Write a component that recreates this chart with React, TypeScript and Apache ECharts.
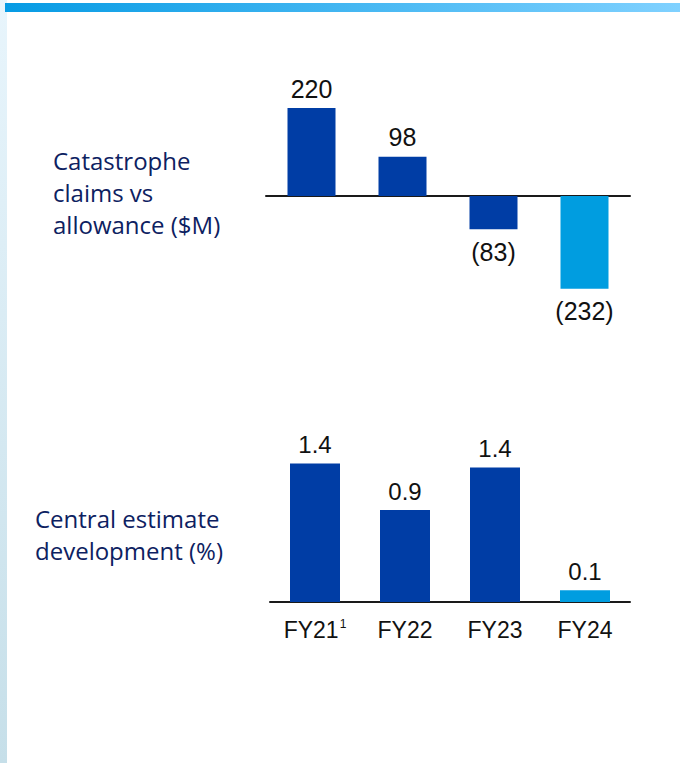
import React, { useEffect, useRef } from "react";
import * as echarts from "echarts";

const categories = ["FY21", "FY22", "FY23", "FY24"];
const footnoteMarks = ["1", "", "", ""];
const catastropheValues = [220, 98, -83, -232];
const centralEstimateValues = [1.4, 0.93, 1.36, 0.12];
const topTitleLines = ["Catastrophe", "claims vs", "allowance ($M)"];
const bottomTitleLines = ["Central estimate", "development (%)"];

const DARK = "#003da5";
const LIGHT = "#009de0";
const TITLE = "#0d2161";

export default function App() {
  const ref = useRef<HTMLDivElement>(null);
  useEffect(() => {
    if (!ref.current) return;
    document.body.style.margin = "0";
    const chart = echarts.init(ref.current, null, { renderer: "svg" });
    const lastIdx = categories.length - 1;
    chart.setOption({
      animation: false,
      backgroundColor: "#fff",
      grid: [
        { left: 266, width: 364, top: 96, height: 220 },
        { left: 270, width: 360, top: 443.8, height: 158.2 },
      ],
      xAxis: [
        {
          gridIndex: 0,
          type: "category",
          data: categories,
          axisLine: { onZero: true, lineStyle: { color: "#1a1a1a", width: 2 } },
          axisTick: { show: false },
          axisLabel: { show: false },
        },
        {
          gridIndex: 1,
          type: "category",
          data: categories,
          axisLine: { lineStyle: { color: "#1a1a1a", width: 2 } },
          axisTick: { show: false },
          axisLabel: {
            interval: 0,
            margin: 16,
            fontFamily: "Liberation Sans",
            fontSize: 23,
            color: "#111",
            formatter: (v: string, i: number) =>
              footnoteMarks[i] ? `${v}{sup|${footnoteMarks[i]}}` : v,
            rich: {
              sup: {
                fontFamily: "Liberation Sans",
                fontSize: 12,
                color: "#111",
                verticalAlign: "top",
                padding: [0, 0, 10, 1],
              },
            },
          },
        },
      ],
      yAxis: [
        { gridIndex: 0, type: "value", min: -300, max: 250, show: false, splitLine: { show: false } },
        { gridIndex: 1, type: "value", min: 0, max: 1.6, show: false, splitLine: { show: false } },
      ],
      series: [
        {
          type: "bar",
          xAxisIndex: 0,
          yAxisIndex: 0,
          barWidth: 48,
          data: catastropheValues.map((v, i) => ({
            value: v,
            itemStyle: { color: i === lastIdx ? LIGHT : DARK },
            label: {
              show: true,
              position: v >= 0 ? "top" : "bottom",
              distance: v >= 0 ? 7 : 10,
              fontFamily: "Liberation Sans",
              fontSize: 25,
              color: "#111",
              formatter: () => (v < 0 ? `(${Math.abs(v)})` : `${v}`),
            },
          })),
        },
        {
          type: "bar",
          xAxisIndex: 1,
          yAxisIndex: 1,
          barWidth: 50,
          data: centralEstimateValues.map((v, i) => ({
            value: v,
            itemStyle: { color: i === lastIdx ? LIGHT : DARK },
            label: {
              show: true,
              position: "top",
              distance: 7,
              fontFamily: "Liberation Sans",
              fontSize: 24,
              color: "#111",
              formatter: () => v.toFixed(1),
            },
          })),
        },
      ],
      graphic: [
        {
          type: "rect",
          shape: { x: 0, y: 0, width: 7, height: 763 },
          style: {
            fill: new echarts.graphic.LinearGradient(0, 0, 0, 1, [
              { offset: 0, color: "#e8f5fc" },
              { offset: 1, color: "#c6dfe9" },
            ]),
          },
          silent: true,
        },
        {
          type: "rect",
          shape: { x: 5, y: 3, width: 675, height: 9 },
          style: {
            fill: new echarts.graphic.LinearGradient(0, 0, 1, 0, [
              { offset: 0, color: "#069be4" },
              { offset: 1, color: "#80d1ff" },
            ]),
          },
          silent: true,
        },
        {
          type: "text",
          x: 53,
          y: 144,
          style: {
            text: topTitleLines.join("\n"),
            fontFamily: "Open Sans",
            fontSize: 24,
            lineHeight: 32,
            fill: TITLE,
            verticalAlign: "top",
          },
        },
        {
          type: "text",
          x: 35,
          y: 502,
          style: {
            text: bottomTitleLines.join("\n"),
            fontFamily: "Open Sans",
            fontSize: 24,
            lineHeight: 32,
            fill: TITLE,
            verticalAlign: "top",
          },
        },
      ],
    });
    return () => chart.dispose();
  }, []);
  return (
    <div
      ref={ref}
      style={{ position: "fixed", left: 0, top: 0, width: 680, height: 763 }}
    />
  );
}
